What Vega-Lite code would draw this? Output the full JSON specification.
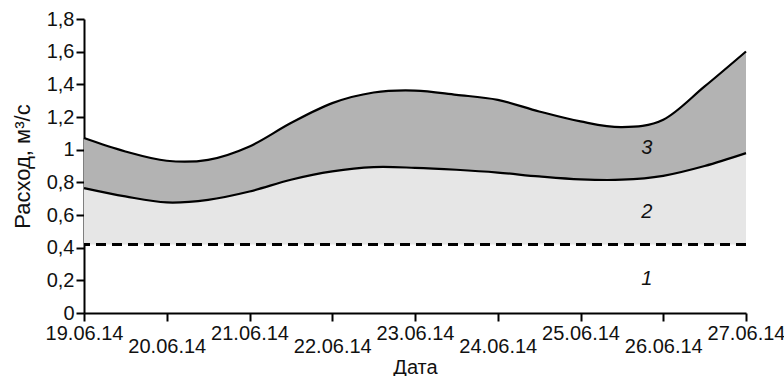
{
  "$schema": "https://vega.github.io/schema/vega-lite/v6.json",
  "autosize": "none",
  "width": 662,
  "height": 294,
  "padding": {"left": 84, "top": 19, "right": 38, "bottom": 63},
  "background": "white",
  "config": {
    "view": {"stroke": null},
    "font": "Liberation Sans",
    "axis": {"grid": false, "domainColor": "black", "domainWidth": 2, "tickColor": "black", "tickWidth": 2, "labelColor": "#111", "titleColor": "#111", "labelFont": "Liberation Sans", "titleFont": "Liberation Sans", "titleFontWeight": "normal"},
    "axisY": {"labelOverlap": false, "tickCount": 10}
  },
  "datasets": {
    "flow": [
      {"date": "2014-06-19T00:00:00Z", "lower": 0.765, "upper": 1.071},
      {"date": "2014-06-19T12:00:00Z", "lower": 0.714, "upper": 0.989},
      {"date": "2014-06-20T00:00:00Z", "lower": 0.677, "upper": 0.932},
      {"date": "2014-06-20T12:00:00Z", "lower": 0.693, "upper": 0.938},
      {"date": "2014-06-21T00:00:00Z", "lower": 0.744, "upper": 1.02},
      {"date": "2014-06-21T12:00:00Z", "lower": 0.816, "upper": 1.163},
      {"date": "2014-06-22T00:00:00Z", "lower": 0.867, "upper": 1.285},
      {"date": "2014-06-22T12:00:00Z", "lower": 0.893, "upper": 1.35},
      {"date": "2014-06-23T00:00:00Z", "lower": 0.889, "upper": 1.362},
      {"date": "2014-06-23T12:00:00Z", "lower": 0.877, "upper": 1.336},
      {"date": "2014-06-24T00:00:00Z", "lower": 0.86, "upper": 1.305},
      {"date": "2014-06-24T12:00:00Z", "lower": 0.836, "upper": 1.234},
      {"date": "2014-06-25T00:00:00Z", "lower": 0.818, "upper": 1.173},
      {"date": "2014-06-25T12:00:00Z", "lower": 0.816, "upper": 1.138},
      {"date": "2014-06-26T00:00:00Z", "lower": 0.84, "upper": 1.183},
      {"date": "2014-06-26T12:00:00Z", "lower": 0.9, "upper": 1.387},
      {"date": "2014-06-27T00:00:00Z", "lower": 0.979, "upper": 1.601}
    ],
    "labels": [
      {"date": "2014-06-25T19:12:00Z", "q": 1.01, "lab": "3"},
      {"date": "2014-06-25T19:12:00Z", "q": 0.62, "lab": "2"},
      {"date": "2014-06-25T19:12:00Z", "q": 0.21, "lab": "1"}
    ]
  },
  "layer": [
    {
      "data": {"name": "flow"},
      "mark": {"type": "area", "interpolate": "cardinal", "color": "#e6e6e6", "opacity": 1},
      "encoding": {
        "x": {"field": "date", "type": "temporal", "scale": {"type": "utc", "domain": ["2014-06-19T00:00:00Z", "2014-06-27T00:00:00Z"]},
          "axis": {"title": "Дата", "titleFontSize": 20, "titlePadding": 1, "format": "%d.%m.%y", "tickCount": {"interval": "day", "step": 1}, "tickSize": 8, "labelFontSize": 20, "labelBaseline": "top", "labelOverlap": false, "labelFlush": false,
            "labelPadding": {"condition": {"test": "utcdate(datum.value) % 2 == 0", "value": 15}, "value": 2}}},
        "y": {"field": "lower", "type": "quantitative", "scale": {"domain": [0, 1.8], "nice": false},
          "axis": {"title": "Расход, м³/с", "titleFontSize": 22, "titlePadding": 12, "values": [0, 0.2, 0.4, 0.6, 0.8, 1, 1.2, 1.4, 1.6, 1.8], "tickCount": 10, "tickSize": 8, "labelFontSize": 20, "labelPadding": 2, "labelOverlap": false,
            "labelExpr": "replace(toString(round(datum.value*10)/10), '.', ',')"}},
        "y2": {"datum": 0.42}
      }
    },
    {
      "data": {"name": "flow"},
      "mark": {"type": "area", "interpolate": "cardinal", "color": "#b3b3b3", "opacity": 1},
      "encoding": {
        "x": {"field": "date", "type": "temporal"},
        "y": {"field": "upper", "type": "quantitative"},
        "y2": {"field": "lower"}
      }
    },
    {
      "data": {"name": "flow"},
      "mark": {"type": "line", "interpolate": "cardinal", "color": "black", "strokeWidth": 2.2},
      "encoding": {
        "x": {"field": "date", "type": "temporal"},
        "y": {"field": "lower", "type": "quantitative"}
      }
    },
    {
      "data": {"name": "flow"},
      "mark": {"type": "line", "interpolate": "cardinal", "color": "black", "strokeWidth": 2.2},
      "encoding": {
        "x": {"field": "date", "type": "temporal"},
        "y": {"field": "upper", "type": "quantitative"}
      }
    },
    {
      "data": {"name": "flow"},
      "mark": {"type": "rule", "color": "black", "strokeWidth": 2.5, "strokeDash": [10, 6]},
      "encoding": {
        "y": {"datum": 0.42}
      }
    },
    {
      "data": {"name": "labels"},
      "mark": {"type": "text", "fontSize": 20, "color": "#111", "fontStyle": "italic"},
      "encoding": {
        "x": {"field": "date", "type": "temporal"},
        "y": {"field": "q", "type": "quantitative"},
        "text": {"field": "lab"}
      }
    }
  ]
}
